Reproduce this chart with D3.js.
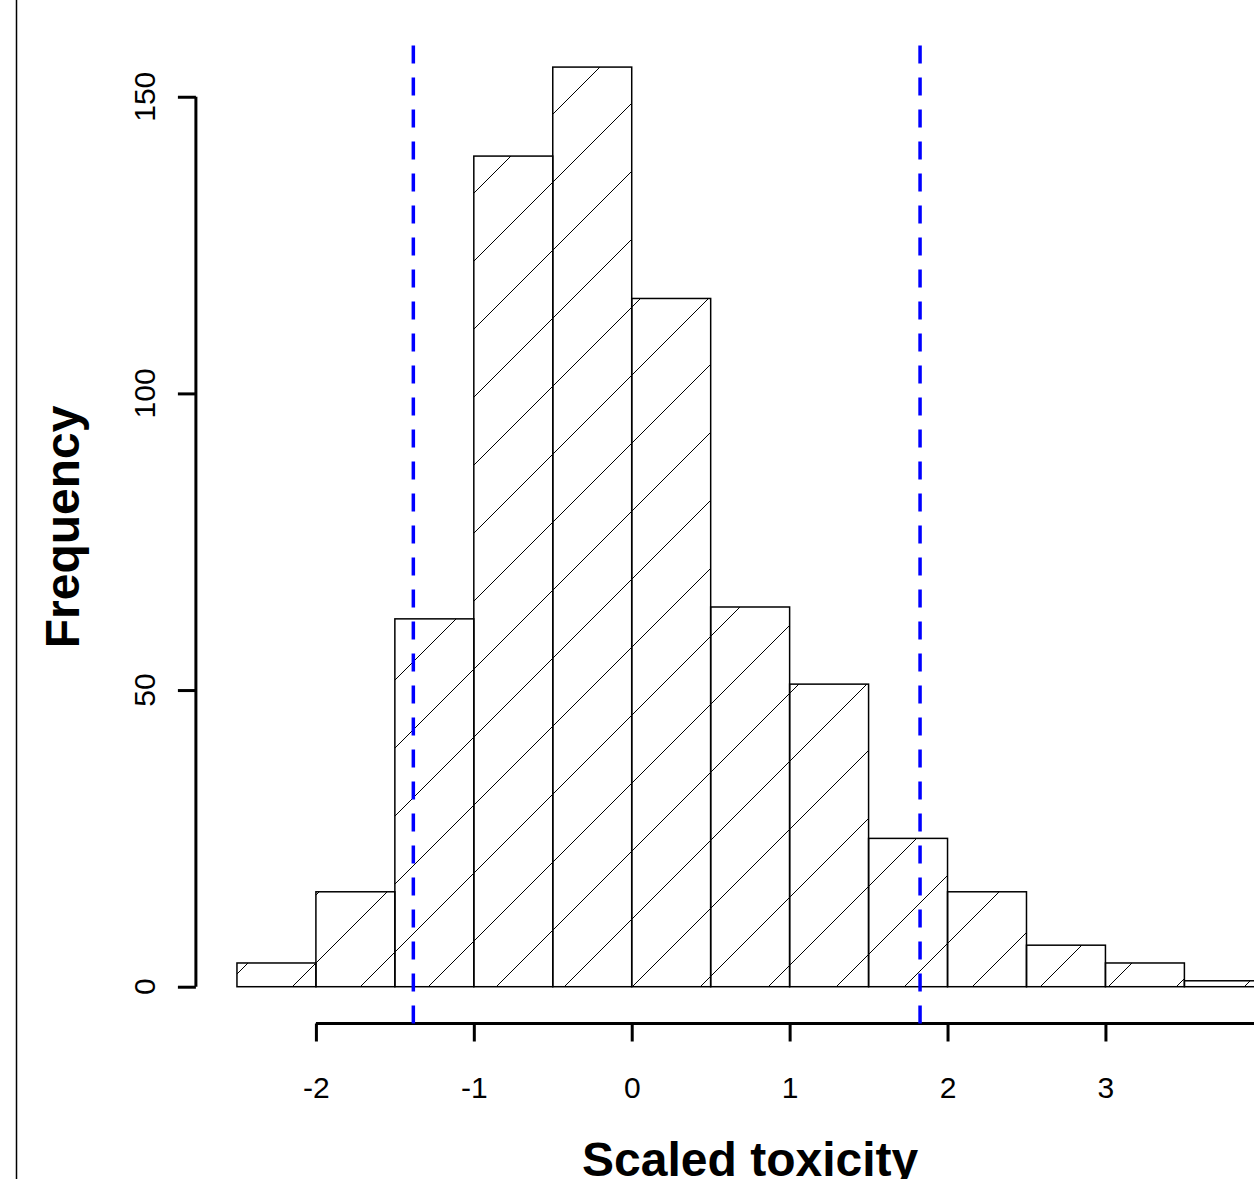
<!DOCTYPE html>
<html>
<head>
<meta charset="utf-8">
<script src="https://cdn.jsdelivr.net/npm/d3@7"></script>
<style>
  body { margin: 0; background: #fff; }
  text { font-family: "Liberation Sans", Arial, sans-serif; }
</style>
</head>
<body>
<div id="chart"></div>
<script>
// histogram data (bin edges and counts)
const breaks = [-2.5, -2, -1.5, -1, -0.5, 0, 0.5, 1, 1.5, 2, 2.5, 3, 3.5, 4];
const counts = [4, 16, 62, 140, 155, 116, 64, 51, 25, 16, 7, 4, 1];
const xTicks = [-2, -1, 0, 1, 2, 3, 4];
const yTicks = [0, 50, 100, 150];
const cutoffs = [-1.383, 1.826];

const width = 1254, height = 1179;

const svg = d3.select('#chart')
    .append('svg')
    .attr('width', width)
    .attr('height', height);

// hatch pattern, 45 degree lines
const defs = svg.append('defs');
defs.append('pattern')
    .attr('id', 'hatch')
    .attr('patternUnits', 'userSpaceOnUse')
    .attr('x', 55)
    .attr('y', 0)
    .attr('width', 68)
    .attr('height', 68)
    .append('path')
    .attr('d', 'M-10,10 L10,-10 M0,68 L68,0 M58,78 L78,58')
    .attr('stroke', '#000')
    .attr('stroke-width', 1)
    .attr('fill', 'none');

// scales: R style, 4% padding around data range
const x = d3.scaleLinear().domain([-2.76, 4.26]).range([195.9, 1304.4]);
const y = d3.scaleLinear().domain([-6.2, 161.2]).range([1023.5, 30.3]);

// figure border on the left
svg.append('line')
    .attr('x1', 16.5).attr('x2', 16.5)
    .attr('y1', 0).attr('y2', height)
    .attr('stroke', '#000')
    .attr('stroke-width', 1.5);

// bars
const bins = counts.map((c, i) => ({ x0: breaks[i], x1: breaks[i + 1], n: c }));
svg.append('g')
    .selectAll('rect')
    .data(bins)
    .join('rect')
    .attr('x', d => x(d.x0))
    .attr('y', d => y(d.n))
    .attr('width', d => x(d.x1) - x(d.x0))
    .attr('height', d => y(0) - y(d.n))
    .attr('fill', 'url(#hatch)')
    .attr('stroke', '#000')
    .attr('stroke-width', 1.5);

// x axis
const xAxisY = y(-6.2);
const gx = svg.append('g')
    .attr('transform', `translate(0,${xAxisY})`)
    .call(d3.axisBottom(x).tickValues(xTicks).tickSize(18).tickPadding(35).tickFormat(d => String(d)));
gx.select('.domain').remove();
gx.selectAll('.tick line').attr('stroke-width', 3);
gx.selectAll('.tick text').attr('font-size', 30).attr('fill', '#000')
    .style('font-family', '"Liberation Sans", Arial, sans-serif');
gx.append('line')
    .attr('x1', x(xTicks[0])).attr('x2', x(xTicks[xTicks.length - 1]))
    .attr('stroke', '#000').attr('stroke-width', 3);

// y axis
const yAxisX = x(-2.76);
const gy = svg.append('g')
    .attr('transform', `translate(${yAxisX},0)`)
    .call(d3.axisLeft(y).tickValues(yTicks).tickSize(18).tickFormat(''));
gy.select('.domain').remove();
gy.selectAll('.tick line').attr('stroke-width', 3);
gy.append('line')
    .attr('y1', y(yTicks[0])).attr('y2', y(yTicks[yTicks.length - 1]))
    .attr('stroke', '#000').attr('stroke-width', 3);

// rotated y tick labels
svg.append('g')
    .selectAll('text')
    .data(yTicks)
    .join('text')
    .attr('transform', d => `translate(155,${y(d)}) rotate(-90)`)
    .attr('text-anchor', 'middle')
    .attr('font-size', 30)
    .text(d => d);

// cutoff lines (dash pattern starts at the bottom, like abline)
svg.append('g')
    .selectAll('line')
    .data(cutoffs)
    .join('line')
    .attr('x1', d => x(d)).attr('x2', d => x(d))
    .attr('y1', y(-6.2)).attr('y2', y(160.5))
    .attr('stroke', '#0000ff')
    .attr('stroke-width', 3.5)
    .attr('stroke-dasharray', '18,14');

// axis titles
svg.append('text')
    .attr('x', (x(-2.76) + x(4.26)) / 2)
    .attr('y', 1176)
    .attr('text-anchor', 'middle')
    .attr('font-size', 48)
    .attr('font-weight', 'bold')
    .text('Scaled toxicity');

svg.append('text')
    .attr('transform', `translate(79,${(y(-6.2) + y(161.2)) / 2}) rotate(-90)`)
    .attr('text-anchor', 'middle')
    .attr('font-size', 48)
    .attr('font-weight', 'bold')
    .text('Frequency');
</script>
</body>
</html>
